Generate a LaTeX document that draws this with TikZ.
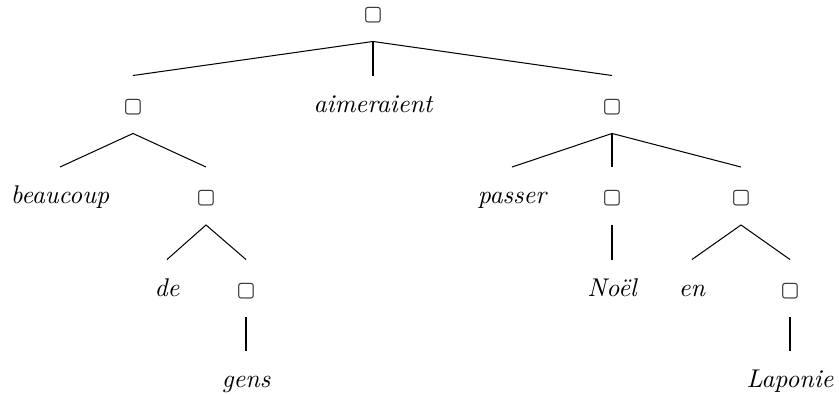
\documentclass[tikz,border=0pt]{standalone}
\usepackage{fontspec}
\newfontfamily\symbfont{DejaVu Sans}
\newcommand{\emptyleaf}{{\symbfont\fontsize{8}{8}\selectfont\textcolor{black!80}{\char"25A2}}}
\begin{document}
\begin{tikzpicture}[
  x=0.39pt, y=-0.39pt,
  every node/.style={font=\itshape, text height=7.5pt, text depth=1.5pt, inner xsep=1pt, inner ysep=6.6pt},
  every path/.style={line width=0.4pt}
]
  \useasboundingbox (0,0) rectangle (839,395);

  \node (top) at (373,12.5) {\emptyleaf};

  \node (l) at (133,104.5) {\emptyleaf};
  \node (aim) at (373,104.5) {aimeraient};
  \node (r) at (612,104.5) {\emptyleaf};

  \node (beau) at (60,196) {beaucoup};
  \node (lr) at (206,196) {\emptyleaf};
  \node (pass) at (512,196) {passer};
  \node (rm) at (612,196) {\emptyleaf};
  \node (rr) at (741,196) {\emptyleaf};

  \node (de) at (167,288.5) {de};
  \node (lrr) at (246,288.5) {\emptyleaf};
  \node (noel) at (612,288.5) {Noël};
  \node (en) at (692,288.5) {en};
  \node (rrr) at (790,288.5) {\emptyleaf};

  \node (gens) at (246,379.5) {gens};
  \node (lap) at (790,379.5) {Laponie};

  \draw (top.south) -- (l.north);
  \draw (top.south) -- (aim.north);
  \draw (top.south) -- (r.north);
  \draw (l.south) -- (beau.north);
  \draw (l.south) -- (lr.north);
  \draw (lr.south) -- (de.north);
  \draw (lr.south) -- (lrr.north);
  \draw (lrr.south) -- (gens.north);
  \draw (r.south) -- (pass.north);
  \draw (r.south) -- (rm.north);
  \draw (r.south) -- (rr.north);
  \draw (rm.south) -- (noel.north);
  \draw (rr.south) -- (en.north);
  \draw (rr.south) -- (rrr.north);
  \draw (rrr.south) -- (lap.north);
\end{tikzpicture}
\end{document}
